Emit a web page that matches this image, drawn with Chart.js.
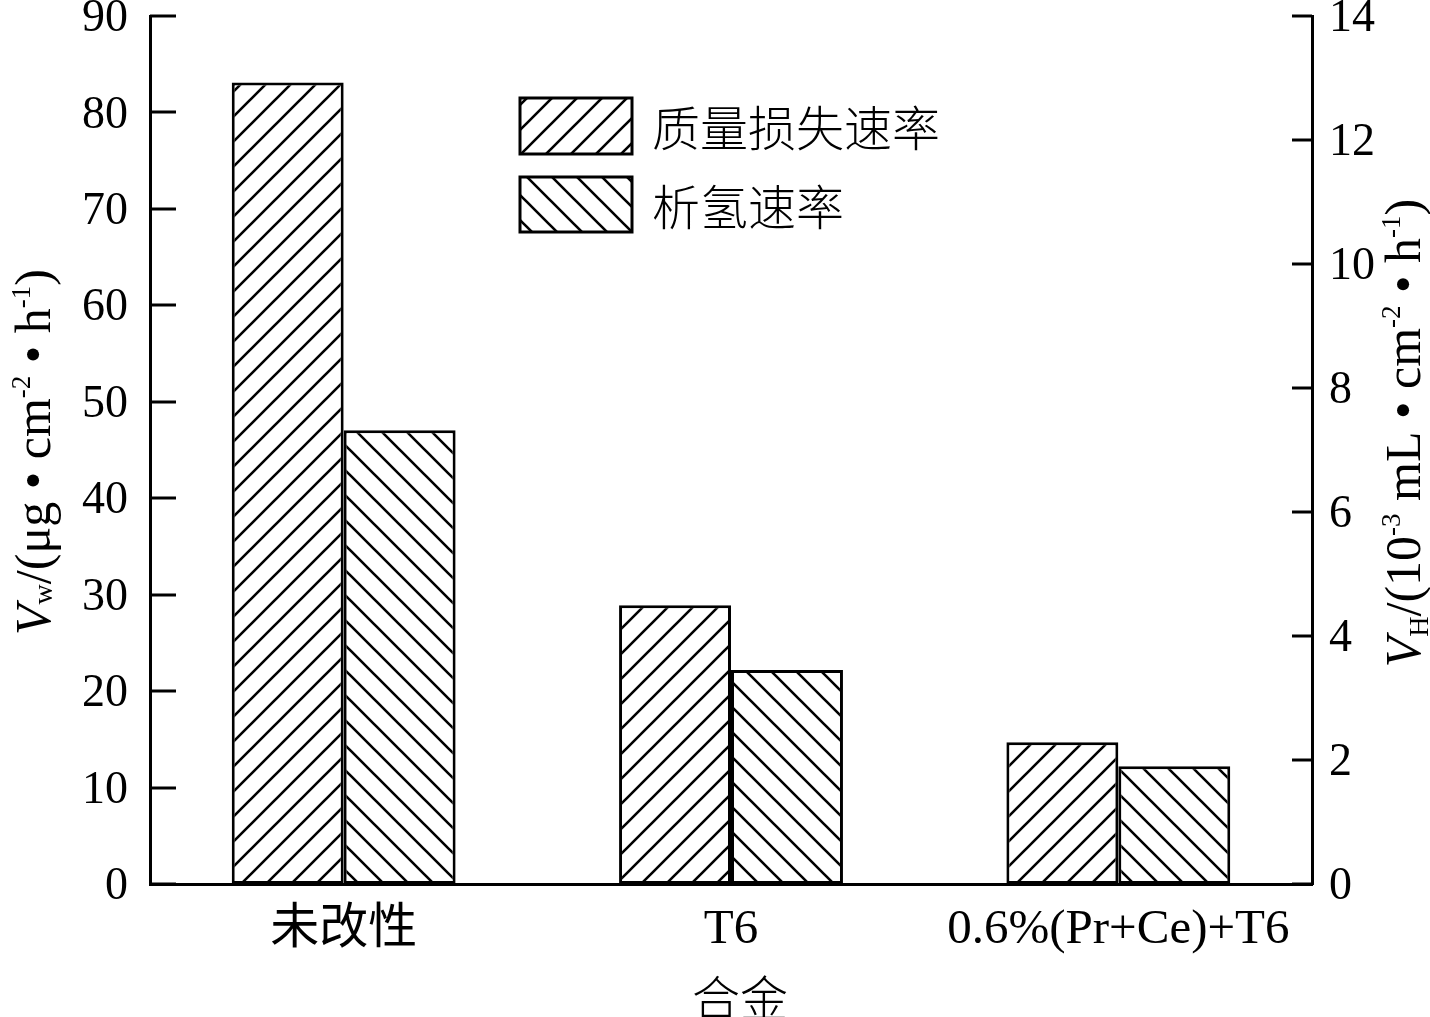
<!DOCTYPE html>
<html>
<head>
<meta charset="utf-8">
<script src="https://cdn.jsdelivr.net/npm/chart.js@4.4.0/dist/chart.umd.min.js"></script>
<style>
body{margin:0;background:#fff}
canvas{display:block}
</style>
</head>
<body>
<canvas id="myChart" width="1430" height="1017"></canvas>
<script>
// data
var categories=['未改性','T6','0.6%(Pr+Ce)+T6']
var seriesNames=['质量损失速率','析氢速率']
var massLoss=[83.1,28.9,14.7]      // left axis, ug/(cm2 h)
var hydrogen=[7.32,3.45,1.90]      // right axis, 10^-3 mL/(cm2 h)
var leftAxis=[0,90,10]             // min,max,step
var rightAxis=[0,14,2]

var serif='"Liberation Serif","Times New Roman","Noto Sans CJK SC",serif'
var cjk='"Noto Sans CJK SC","Liberation Serif",sans-serif'

function hatch(dir){
    var s=25
    var c=document.createElement('canvas')
    c.width=s;c.height=s
    var g=c.getContext('2d')
    g.fillStyle='#fff';g.fillRect(0,0,s,s)
    g.strokeStyle='#000';g.lineWidth=2.6
    g.beginPath()
    if(dir>0){
        g.moveTo(-s,2*s);g.lineTo(2*s,-s)
        g.moveTo(-s,s);g.lineTo(s,-s)
        g.moveTo(0,2*s);g.lineTo(2*s,0)
    }else{
        g.moveTo(-s,-s);g.lineTo(2*s,2*s)
        g.moveTo(-s,0);g.lineTo(s,2*s)
        g.moveTo(0,-s);g.lineTo(2*s,s)
    }
    g.stroke()
    return g.createPattern(c,'repeat')
}
var pattMass=hatch(1)
var pattH=hatch(-1)

// text made of pieces: [text, size, italic, dy]
function drawRich(ctx,parts,x,y){
    var w=0
    parts.forEach(function(p){
        ctx.font=(p[2]?'italic ':'')+p[1]+'px '+serif
        p.w=ctx.measureText(p[0]).width
        w+=p.w
    })
    var cx=x-w/2
    parts.forEach(function(p){
        ctx.font=(p[2]?'italic ':'')+p[1]+'px '+serif
        ctx.fillText(p[0],cx,y+p[3])
        cx+=p.w
    })
}

var decor={
    id:'decor',
    afterDraw:function(chart){
        var ctx=chart.ctx,a=chart.chartArea
        var y=chart.scales.y,y1=chart.scales.y1
        ctx.save()
        ctx.strokeStyle='#000';ctx.lineWidth=3
        y.ticks.forEach(function(t){
            var py=Math.round(y.getPixelForValue(t.value))
            ctx.beginPath();ctx.moveTo(a.left,py);ctx.lineTo(a.left+26,py);ctx.stroke()
        })
        y1.ticks.forEach(function(t){
            var py=Math.round(y1.getPixelForValue(t.value))
            ctx.beginPath();ctx.moveTo(a.right,py);ctx.lineTo(a.right-20,py);ctx.stroke()
        })

        // legend
        var fills=[pattMass,pattH]
        var boxes=[[520,98,112,56],[520,177,112,55]]
        ctx.textBaseline='middle';ctx.textAlign='left'
        ctx.fillStyle='#000'
        for(var i=0;i<2;i++){
            var b=boxes[i]
            ctx.fillStyle=fills[i];ctx.fillRect(b[0],b[1],b[2],b[3])
            ctx.strokeRect(b[0],b[1],b[2],b[3])
            ctx.fillStyle='#000'
            ctx.font='300 48px '+cjk
            ctx.fillText(seriesNames[i],652,b[1]+b[3]/2+2)
        }

        // x title
        ctx.textAlign='center'
        ctx.font='300 48px '+cjk
        ctx.fillText('合金',740,998)

        // y titles
        ctx.textBaseline='alphabetic';ctx.textAlign='left'
        ctx.save()
        ctx.translate(50,452);ctx.rotate(-Math.PI/2)
        drawRich(ctx,[['V',50,true,0],['w',28,false,2],['/(μg • cm',50,false,0],['-2',27,false,-20],[' • h',50,false,0],['-1',27,false,-20],[')',50,false,0]],0,0)
        ctx.restore()
        ctx.save()
        ctx.translate(1420,433);ctx.rotate(-Math.PI/2)
        drawRich(ctx,[['V',50,true,0],['H',28,false,8],['/(10',50,false,0],['-3',27,false,-20],[' mL • cm',50,false,0],['-2',27,false,-20],[' • h',50,false,0],['-1',27,false,-20],[')',50,false,0]],0,0)
        ctx.restore()
        ctx.restore()
    }
}

function fixY(w){
    return function(s){s.width=w;s.paddingTop=0;s.paddingBottom=0}
}

new Chart('myChart',{
    type:'bar',
    data:{
        labels:categories,
        datasets:[{
            label:seriesNames[0],
            data:massLoss,
            yAxisID:'y',
            backgroundColor:pattMass,
            borderColor:'#000',
            borderWidth:3,
            borderSkipped:false
        },{
            label:seriesNames[1],
            data:hydrogen,
            yAxisID:'y1',
            backgroundColor:pattH,
            borderColor:'#000',
            borderWidth:3,
            borderSkipped:false
        }]
    },
    options:{
        responsive:false,
        animation:false,
        devicePixelRatio:1,
        layout:{padding:{top:16,left:0,right:0,bottom:0}},
        plugins:{legend:{display:false},tooltip:{enabled:false}},
        datasets:{bar:{categoryPercentage:0.578,barPercentage:1}},
        scales:{
            x:{
                grid:{display:false,drawTicks:false},
                border:{display:true,color:'#000',width:3},
                ticks:{color:'#000',padding:17,maxRotation:0,font:{family:serif,size:49}},
                afterFit:function(s){s.height=133;s.paddingLeft=0;s.paddingRight=0}
            },
            y:{
                position:'left',
                min:leftAxis[0],max:leftAxis[1],
                grid:{display:false,drawTicks:false},
                border:{display:true,color:'#000',width:3},
                ticks:{stepSize:leftAxis[2],color:'#000',padding:22,labelOffset:3,font:{family:serif,size:46}},
                afterFit:fixY(150)
            },
            y1:{
                position:'right',
                min:rightAxis[0],max:rightAxis[1],
                grid:{display:false,drawTicks:false},
                border:{display:true,color:'#000',width:3},
                ticks:{stepSize:rightAxis[2],color:'#000',padding:17,labelOffset:3,font:{family:serif,size:46}},
                afterFit:fixY(118)
            }
        }
    },
    plugins:[decor]
})
</script>
</body>
</html>
